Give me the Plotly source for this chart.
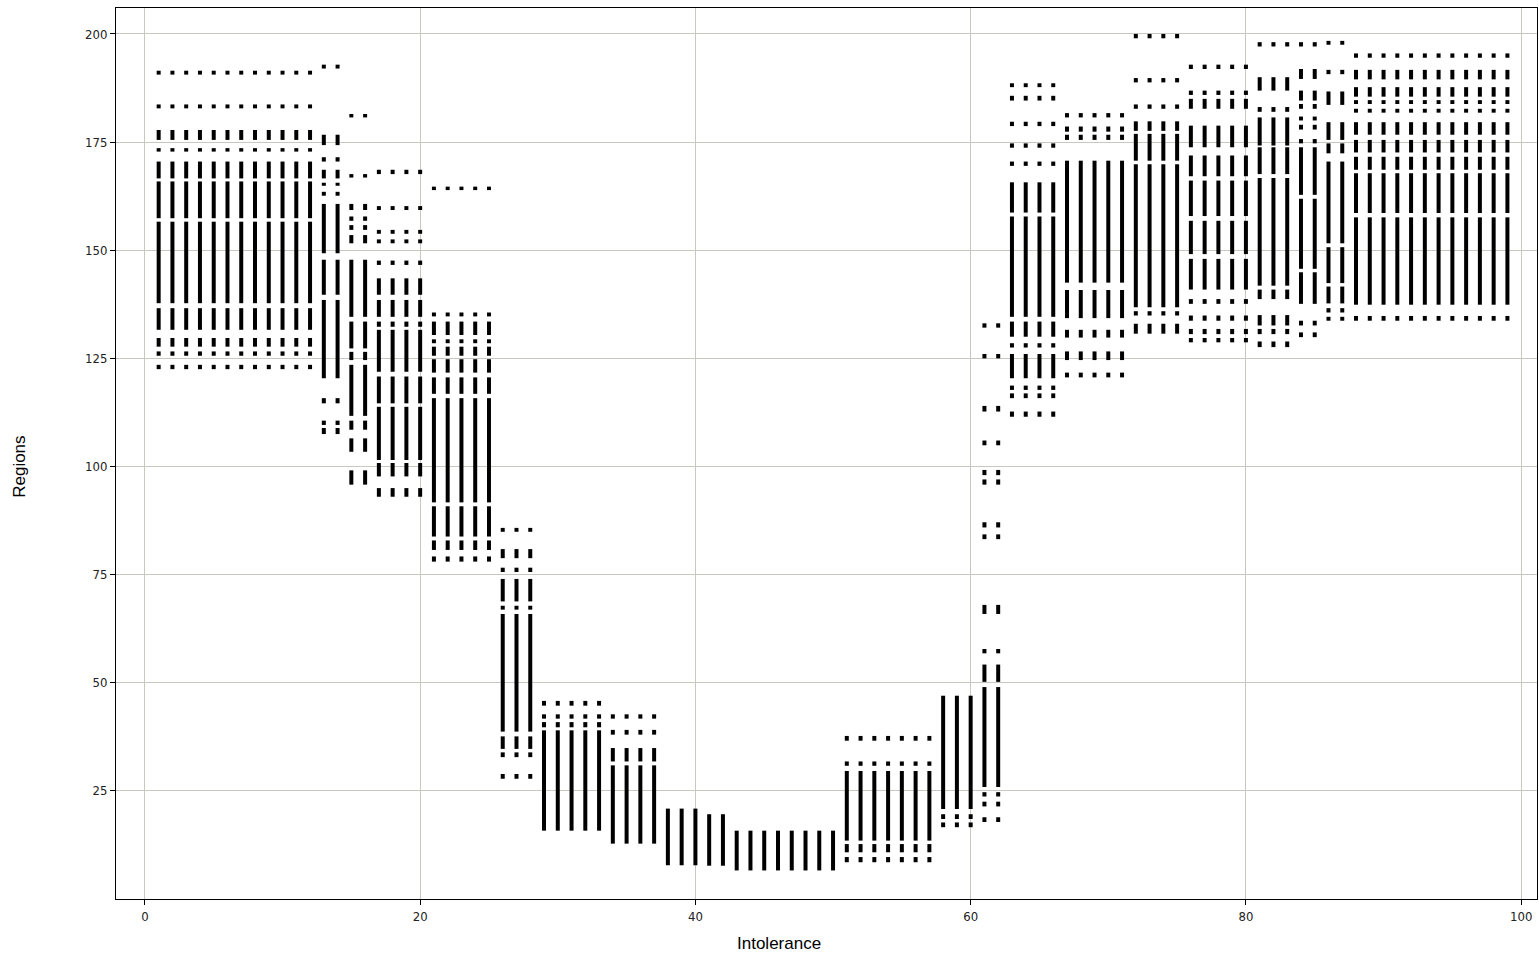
import plotly.graph_objects as go

# Column groups: first and last Intolerance value sharing the same region pattern
group_x_first = [1, 13, 15, 17, 21, 26, 29, 34, 38, 41, 43, 51, 58, 61, 63, 67, 72, 76, 81, 84, 86, 88]
group_x_last  = [12, 14, 16, 20, 25, 28, 33, 37, 40, 42, 50, 57, 60, 62, 66, 71, 75, 80, 83, 85, 87, 99]

# Region runs (low, high) for each group
seg_A = [(190.6, 191.5), (182.8, 183.7), (175.5, 177.8), (172.8, 173.6), (166.6, 170.5), (157.4, 165.9),
         (137.75, 156.6), (131.6, 136.6), (127.7, 129.7), (125.6, 126.6), (122.5, 123.5)]
seg_B = [(192.0, 192.9), (174.3, 176.7), (170.5, 171.5), (166.6, 168.6), (164.9, 165.6), (162.6, 163.5),
         (149.3, 160.7), (139.7, 147.8), (120.4, 138.5), (114.6, 115.8), (109.6, 110.6), (107.5, 108.9)]
seg_C = [(180.7, 181.5), (166.8, 167.6), (159.3, 160.7), (156.8, 157.8), (154.7, 155.8), (151.6, 153.5),
         (134.6, 147.8), (127.3, 133.5), (124.6, 126.5), (111.7, 123.5), (108.5, 110.6), (103.4, 106.5),
         (95.8, 99.1)]
seg_D = [(167.6, 168.6), (159.3, 160.2), (153.8, 154.7), (151.6, 152.5), (146.6, 147.6), (139.7, 143.5),
         (134.6, 138.5), (132.3, 133.5), (121.9, 131.6), (114.6, 120.8), (101.5, 113.8), (97.7, 100.8),
         (93.0, 95.0)]
seg_E = [(163.9, 164.7), (134.7, 135.6), (130.4, 133.5), (128.5, 129.4), (125.6, 127.7), (121.7, 124.8),
         (116.8, 120.6), (91.7, 115.8), (83.8, 90.8), (80.7, 82.9), (78.0, 79.2)]
seg_F = [(84.9, 85.8), (78.8, 80.9), (75.6, 76.6), (68.8, 74.0), (66.9, 67.8), (38.7, 65.9), (34.7, 37.6),
         (32.8, 33.9), (27.8, 28.9)]
seg_G = [(44.7, 45.8), (41.7, 42.7), (39.7, 40.9), (15.8, 39.0)]
seg_H = [(41.7, 42.7), (38.0, 39.1), (31.8, 34.9), (12.8, 30.9)]
seg_I = [(7.8, 20.9)]
seg_I2 = [(7.7, 19.6)]
seg_J = [(6.6, 15.8)]
seg_K = [(36.6, 37.7), (30.8, 31.8), (13.5, 29.6), (10.8, 12.7), (8.5, 9.7)]
seg_L = [(20.8, 47.0), (18.5, 19.6), (16.6, 17.7)]
seg_M = [(132.1, 133.1), (125.0, 126.0), (112.7, 114.0), (104.9, 106.0), (98.0, 99.2), (95.8, 97.0),
         (85.9, 87.1), (83.2, 84.3), (65.9, 68.0), (56.8, 57.8), (50.2, 54.2), (25.9, 49.0), (23.7, 24.7),
         (21.4, 22.5), (17.8, 18.9)]
seg_N = [(187.7, 188.6), (184.6, 185.7), (178.7, 179.7), (173.7, 174.7), (169.5, 170.5), (158.7, 165.7),
         (134.6, 157.8), (130.0, 133.5), (127.5, 128.5), (120.4, 126.0), (117.7, 118.7), (115.8, 116.9),
         (111.5, 112.7)]
seg_O = [(180.7, 181.7), (177.4, 178.6), (175.5, 176.7), (142.5, 170.7), (134.3, 140.8), (129.8, 131.6),
         (124.6, 126.6), (120.6, 121.7)]
seg_P = [(199.0, 200.0), (188.8, 189.8), (182.7, 183.7), (177.6, 179.8), (170.7, 176.9), (136.8, 169.9),
         (134.9, 135.9), (130.7, 133.0)]
seg_Q = [(191.9, 192.9), (185.9, 186.9), (182.7, 185.0), (173.8, 178.8), (167.1, 171.9), (157.9, 166.1),
         (149.1, 156.8), (140.9, 148.0), (137.6, 138.7), (133.7, 134.9), (130.6, 131.8), (128.7, 129.7)]
seg_R = [(197.1, 198.1), (186.9, 190.0), (182.0, 183.1), (174.2, 180.7), (167.6, 173.8), (141.8, 166.7),
         (138.7, 140.9), (132.6, 135.0), (130.6, 131.8), (127.6, 128.9)]
seg_S = [(197.1, 198.1), (189.6, 191.9), (184.6, 186.9), (182.7, 183.8), (180.0, 180.9), (177.9, 179.0),
         (174.7, 175.7), (162.8, 173.8), (145.7, 161.9), (137.6, 144.9), (132.6, 133.7), (129.9, 131.0)]
seg_T = [(197.5, 198.4), (190.7, 191.7), (183.6, 186.7), (175.5, 179.6), (172.4, 174.7), (151.6, 170.5),
         (142.4, 150.7), (137.7, 141.6), (135.6, 136.6), (133.7, 134.6)]
seg_U = [(194.5, 195.5), (189.5, 191.7), (185.5, 187.7), (183.8, 184.7), (181.8, 182.7), (176.7, 179.6),
         (172.6, 175.5), (168.6, 171.6), (158.6, 167.8), (137.4, 157.6), (133.7, 134.8)]

group_segments = [seg_A, seg_B, seg_C, seg_D, seg_E, seg_F, seg_G, seg_H, seg_I, seg_I2, seg_J, seg_K,
                  seg_L, seg_M, seg_N, seg_O, seg_P, seg_Q, seg_R, seg_S, seg_T, seg_U]

x_ticks = [0, 20, 40, 60, 80, 100]
y_ticks = [25, 50, 75, 100, 125, 150, 175, 200]

xs, ys = [], []
for x0, x1, segs in zip(group_x_first, group_x_last, group_segments):
    for xv in range(x0, x1 + 1):
        for lo, hi in segs:
            xs += [xv, xv, None]
            ys += [lo, hi, None]

fig = go.Figure()
fig.add_trace(go.Scatter(x=xs, y=ys, mode="lines", line=dict(color="black", width=4),
                         connectgaps=False, hoverinfo="skip", showlegend=False))

tick_font = dict(family="Liberation Sans Narrow, DejaVu Sans Condensed, Arial Narrow, sans-serif",
                 size=13, color="#222222")
fig.update_xaxes(range=[-2.1, 101.15], tickvals=x_ticks, ticks="outside", ticklen=5, tickcolor="black",
                 showline=True, linecolor="black", linewidth=1, mirror=True,
                 showgrid=True, gridcolor="#c8c8c0", gridwidth=1, zeroline=False, tickfont=tick_font)
fig.update_yaxes(range=[0, 206], tickvals=y_ticks, ticks="outside", ticklen=5, tickcolor="black",
                 showline=True, linecolor="black", linewidth=1, mirror=True,
                 showgrid=True, gridcolor="#c8c8c0", gridwidth=1, zeroline=False, tickfont=tick_font)

title_font = dict(family="Liberation Sans, Arial, sans-serif", size=17, color="black")
fig.update_layout(
    width=1539, height=958,
    margin=dict(l=116, r=2, t=8, b=59),
    plot_bgcolor="white", paper_bgcolor="white",
    annotations=[
        dict(text="Intolerance", x=0.4666, y=-0.0505, xref="paper", yref="paper",
             showarrow=False, font=title_font, xanchor="center", yanchor="middle"),
        dict(text="Regions", x=-0.0676, y=0.485, xref="paper", yref="paper", textangle=-90,
             showarrow=False, font=title_font, xanchor="center", yanchor="middle"),
    ],
)

fig.write_html("out.html", config={"displayModeBar": False},
               post_script="document.body.style.margin='0';document.body.style.overflow='hidden';")
